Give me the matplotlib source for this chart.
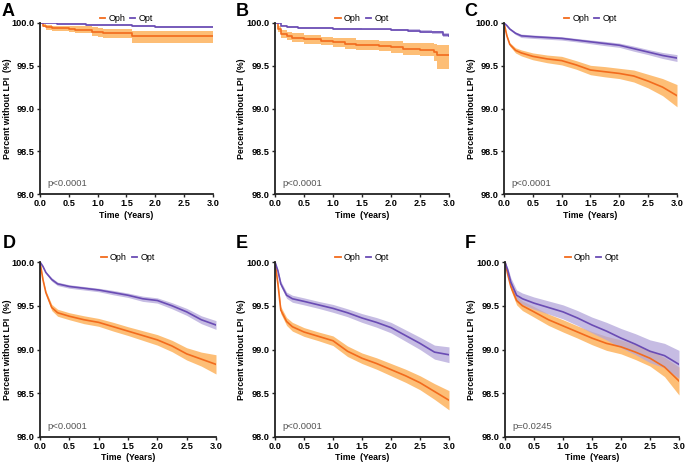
import matplotlib
matplotlib.use("Agg")
import matplotlib.pyplot as plt
from matplotlib.lines import Line2D

plt.rcParams["font.family"] = ["Liberation Sans", "DejaVu Sans"]

# ---------------- data ----------------
panel_labels = ["A", "B", "C", "D", "E", "F"]
p_values = ["p<0.0001", "p<0.0001", "p<0.0001", "p<0.0001", "p<0.0001", "p=0.0245"]
series_names = ["Oph", "Opt"]
x_ticks = [0.0, 0.5, 1.0, 1.5, 2.0, 2.5, 3.0]
y_ticks = [98.0, 98.5, 99.0, 99.5, 100.0]

# Panel A (step curves)
a_oph_t = [0, 0.05, 0.1, 0.2, 0.5, 0.6, 0.9, 1.0, 1.1, 1.6, 3.0]
a_oph = [100, 99.97, 99.95, 99.94, 99.93, 99.92, 99.90, 99.89, 99.88, 99.85, 99.85]
a_oph_hi = [100, 99.99, 99.98, 99.97, 99.97, 99.96, 99.95, 99.94, 99.93, 99.91, 99.91]
a_oph_lo = [100, 99.95, 99.92, 99.91, 99.89, 99.88, 99.85, 99.84, 99.82, 99.77, 99.77]
a_opt_t = [0, 0.3, 0.8, 1.3, 1.6, 2.0, 3.0]
a_opt = [100, 99.99, 99.98, 99.975, 99.965, 99.955, 99.955]
a_opt_hi = [100, 100.0, 99.99, 99.985, 99.978, 99.97, 99.97]
a_opt_lo = [100, 99.98, 99.97, 99.965, 99.952, 99.94, 99.94]

# Panel B (step curves)
b_oph_t = [0, 0.05, 0.1, 0.2, 0.3, 0.5, 0.8, 1.0, 1.2, 1.4, 1.8, 2.0, 2.2, 2.5, 2.75, 2.8, 3.0]
b_oph = [100, 99.93, 99.87, 99.85, 99.83, 99.81, 99.79, 99.78, 99.76, 99.74, 99.73, 99.72, 99.70, 99.69, 99.66, 99.62, 99.62]
b_oph_hi = [100, 99.96, 99.92, 99.90, 99.88, 99.86, 99.84, 99.83, 99.82, 99.80, 99.79, 99.79, 99.77, 99.77, 99.76, 99.74, 99.74]
b_oph_lo = [100, 99.90, 99.82, 99.80, 99.78, 99.76, 99.74, 99.72, 99.70, 99.68, 99.67, 99.65, 99.63, 99.61, 99.56, 99.46, 99.46]
b_opt_t = [0, 0.1, 0.2, 0.4, 1.0, 1.5, 2.0, 2.3, 2.5, 2.7, 2.9, 3.0]
b_opt = [100, 99.97, 99.95, 99.94, 99.93, 99.925, 99.92, 99.91, 99.90, 99.89, 99.86, 99.85]
b_opt_hi = [100, 99.98, 99.96, 99.95, 99.94, 99.935, 99.93, 99.925, 99.915, 99.91, 99.885, 99.875]
b_opt_lo = [100, 99.96, 99.94, 99.93, 99.92, 99.915, 99.91, 99.895, 99.885, 99.87, 99.835, 99.825]

# Panels C-F (dense event curves)
t_grid = [0, 0.05, 0.1, 0.2, 0.3, 0.5, 0.75, 1.0, 1.25, 1.5, 1.75, 2.0, 2.25, 2.5, 2.75, 3.0]

c_oph = [100, 99.85, 99.75, 99.68, 99.65, 99.61, 99.58, 99.56, 99.51, 99.45, 99.43, 99.41, 99.38, 99.32, 99.25, 99.15]
c_oph_ci = [0, 0.01, 0.02, 0.03, 0.035, 0.04, 0.045, 0.05, 0.05, 0.055, 0.06, 0.06, 0.07, 0.08, 0.10, 0.13]
c_opt = [100, 99.97, 99.93, 99.88, 99.85, 99.84, 99.83, 99.82, 99.80, 99.78, 99.76, 99.74, 99.70, 99.66, 99.62, 99.59]
c_opt_ci = [0, 0.005, 0.01, 0.015, 0.02, 0.02, 0.02, 0.02, 0.02, 0.022, 0.025, 0.025, 0.03, 0.03, 0.035, 0.04]

d_oph = [100, 99.80, 99.65, 99.48, 99.42, 99.38, 99.34, 99.31, 99.26, 99.21, 99.16, 99.11, 99.04, 98.95, 98.89, 98.83]
d_oph_ci = [0, 0.01, 0.02, 0.035, 0.04, 0.04, 0.045, 0.045, 0.05, 0.05, 0.055, 0.06, 0.065, 0.07, 0.08, 0.11]
d_opt = [100, 99.95, 99.88, 99.80, 99.75, 99.72, 99.70, 99.68, 99.65, 99.62, 99.58, 99.56, 99.50, 99.43, 99.34, 99.28]
d_opt_ci = [0, 0.005, 0.01, 0.02, 0.02, 0.02, 0.02, 0.02, 0.025, 0.025, 0.03, 0.03, 0.035, 0.04, 0.045, 0.05]

e_oph = [100, 99.75, 99.45, 99.32, 99.26, 99.20, 99.15, 99.10, 98.98, 98.90, 98.84, 98.77, 98.70, 98.62, 98.52, 98.42]
e_oph_ci = [0, 0.02, 0.04, 0.045, 0.05, 0.05, 0.05, 0.055, 0.06, 0.06, 0.065, 0.07, 0.075, 0.08, 0.09, 0.11]
e_opt = [100, 99.90, 99.75, 99.62, 99.58, 99.55, 99.51, 99.47, 99.42, 99.36, 99.31, 99.25, 99.16, 99.07, 98.97, 98.94]
e_opt_ci = [0, 0.01, 0.03, 0.035, 0.04, 0.04, 0.04, 0.045, 0.045, 0.05, 0.055, 0.06, 0.065, 0.07, 0.08, 0.09]

f_oph = [100, 99.85, 99.72, 99.56, 99.50, 99.43, 99.34, 99.27, 99.20, 99.13, 99.07, 99.03, 98.97, 98.90, 98.80, 98.64]
f_oph_ci = [0, 0.02, 0.04, 0.05, 0.055, 0.06, 0.065, 0.07, 0.07, 0.075, 0.08, 0.08, 0.085, 0.09, 0.11, 0.16]
f_opt = [100, 99.90, 99.77, 99.62, 99.58, 99.53, 99.48, 99.43, 99.36, 99.28, 99.21, 99.13, 99.06, 98.98, 98.93, 98.83]
f_opt_ci = [0, 0.03, 0.05, 0.06, 0.065, 0.07, 0.075, 0.08, 0.085, 0.09, 0.10, 0.11, 0.12, 0.13, 0.14, 0.16]

# ---------------- style ----------------
OPH = "#F26B1D"
OPH_FILL = "#FDB35E"
OPT = "#6A4CB4"
OPT_FILL = "#B3A6DA"
AX_COLOR = "#222222"

W, H = 685, 462
fig = plt.figure(figsize=(W / 100, H / 100), dpi=100)

# axes pixel boxes: (left, top, right, bottom)
boxes = [
    (40, 23, 213, 194), (275, 23, 449, 194), (504, 23, 677, 194),
    (40, 262, 216, 437), (275, 262, 449, 437), (505, 262, 679, 437),
]
letter_pos = [(2, 12), (236, 12), (464, 12), (3, 243), (236, 243), (465, 243)]
ylabel_x = [8, 242, 471, 8, 242, 472]
xlabel_y = [215, 215, 215, 457, 457, 457]


def make_ax(box):
    l, t, r, b = box
    return fig.add_axes([l / W, 1 - b / H, (r - l) / W, (b - t) / H])


def style_ax(ax, box, p, letter_xy, letter, ylx, xly):
    l, t, r, b = box
    ax.set_xlim(0, 3.0)
    ax.set_ylim(98.0, 100.0)
    ax.set_xticks(x_ticks)
    ax.set_yticks(y_ticks)
    ax.set_xticklabels([f"{v:.1f}" for v in x_ticks])
    ax.set_yticklabels([f"{v:.1f}" for v in y_ticks])
    for s in ["top", "right"]:
        ax.spines[s].set_visible(False)
    for s in ["left", "bottom"]:
        ax.spines[s].set_linewidth(1.3)
        ax.spines[s].set_color(AX_COLOR)
    ax.tick_params(axis="both", direction="out", length=2.5, width=1.0, color=AX_COLOR,
                   labelsize=6.6, pad=1.2)
    for lab in ax.get_xticklabels() + ax.get_yticklabels():
        lab.set_fontweight("bold")
    fig.text((l + r) / 2 / W, 1 - xly / H, "Time  (Years)", fontsize=6.3,
             fontweight="bold", ha="center", va="center")
    fig.text(ylx / W, 1 - (t + b) / 2 / H, "Percent without LPI  (%)", fontsize=6.3,
             fontweight="bold", ha="center", va="center", rotation=90)
    ax.text(0.04, 0.035, p, transform=ax.transAxes, fontsize=6.8, color="#555555",
            ha="left", va="bottom")
    handles = [Line2D([], [], color=OPH, lw=1.3), Line2D([], [], color=OPT, lw=1.3)]
    ax.legend(handles, series_names, loc="lower center", bbox_to_anchor=(0.5, 1.0),
              ncol=2, frameon=False, fontsize=6.5, handlelength=0.6, handletextpad=0.4,
              columnspacing=0.5, borderaxespad=0, borderpad=0)
    fig.text(letter_xy[0] / W, 1 - letter_xy[1] / H, letter, fontsize=13,
             fontweight="bold", ha="left", va="center")


def step_panel(ax, t1, y1, lo1, hi1, t2, y2, lo2, hi2):
    ax.fill_between(t1, lo1, hi1, step="post", color=OPH_FILL, alpha=0.85, lw=0)
    ax.fill_between(t2, lo2, hi2, step="post", color=OPT_FILL, alpha=0.75, lw=0)
    ax.step(t1, y1, where="post", color=OPH, lw=1.2)
    ax.step(t2, y2, where="post", color=OPT, lw=1.2)


def smooth_panel(ax, y1, ci1, y2, ci2):
    lo1 = [a - b for a, b in zip(y1, ci1)]
    hi1 = [a + b for a, b in zip(y1, ci1)]
    lo2 = [a - b for a, b in zip(y2, ci2)]
    hi2 = [a + b for a, b in zip(y2, ci2)]
    ax.fill_between(t_grid, lo1, hi1, color=OPH_FILL, alpha=0.85, lw=0)
    ax.fill_between(t_grid, lo2, hi2, color=OPT_FILL, alpha=0.75, lw=0)
    ax.plot(t_grid, y1, color=OPH, lw=1.2)
    ax.plot(t_grid, y2, color=OPT, lw=1.2)


axes = [make_ax(b) for b in boxes]
step_panel(axes[0], a_oph_t, a_oph, a_oph_lo, a_oph_hi, a_opt_t, a_opt, a_opt_lo, a_opt_hi)
step_panel(axes[1], b_oph_t, b_oph, b_oph_lo, b_oph_hi, b_opt_t, b_opt, b_opt_lo, b_opt_hi)
smooth_panel(axes[2], c_oph, c_oph_ci, c_opt, c_opt_ci)
smooth_panel(axes[3], d_oph, d_oph_ci, d_opt, d_opt_ci)
smooth_panel(axes[4], e_oph, e_oph_ci, e_opt, e_opt_ci)
smooth_panel(axes[5], f_oph, f_oph_ci, f_opt, f_opt_ci)

for i, ax in enumerate(axes):
    style_ax(ax, boxes[i], p_values[i], letter_pos[i], panel_labels[i], ylabel_x[i], xlabel_y[i])

fig.savefig("out.png", dpi=100)
